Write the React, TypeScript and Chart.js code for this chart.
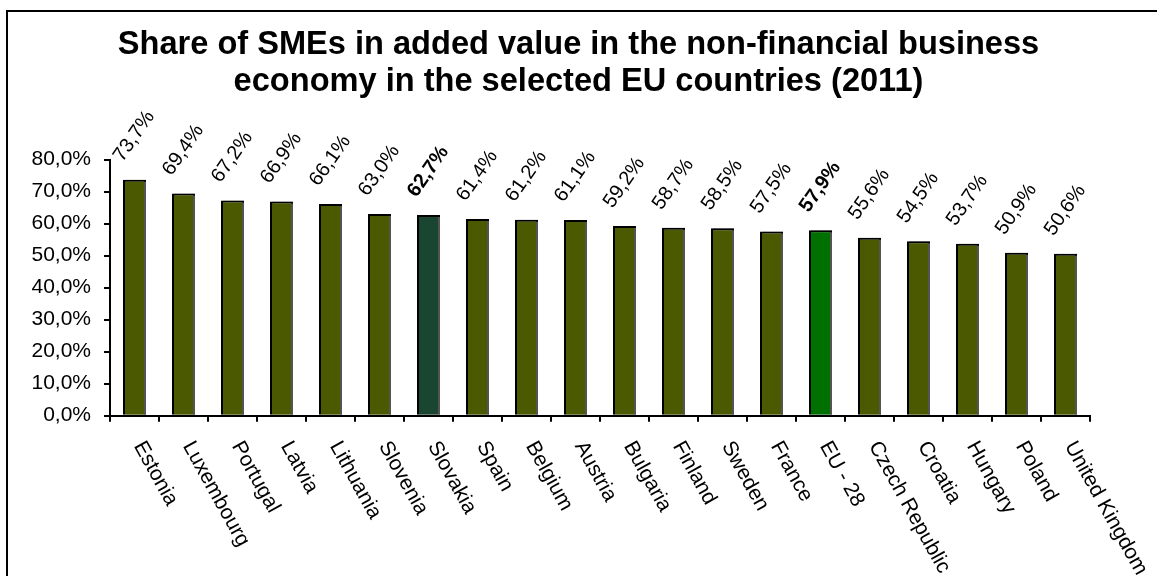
import React, { useEffect, useRef } from 'react';
import { Chart, registerables } from 'chart.js';

Chart.register(...registerables);

const countries = [
  'Estonia', 'Luxembourg', 'Portugal', 'Latvia', 'Lithuania', 'Slovenia', 'Slovakia',
  'Spain', 'Belgium', 'Austria', 'Bulgaria', 'Finland', 'Sweden', 'France', 'EU - 28',
  'Czech Republic', 'Croatia', 'Hungary', 'Poland', 'United Kingdom',
];
const shares = [
  73.7, 69.4, 67.2, 66.9, 66.1, 63.0, 62.7, 61.4, 61.2, 61.1,
  59.2, 58.7, 58.5, 57.5, 57.9, 55.6, 54.5, 53.7, 50.9, 50.6,
];
const highlighted = ['Slovakia', 'EU - 28'];
const titleLines = [
  'Share of SMEs in added value in the non-financial business',
  'economy in the selected EU countries (2011)',
];
const yMin = 0;
const yMax = 80;
const yStep = 10;

const FONT = "'Liberation Sans', Arial, sans-serif";
const OLIVE = '#4b5a00';
const SLOVAKIA = '#1a4631';
const EU = '#007000';

const fmt = (v: number) => v.toFixed(1).replace('.', ',') + '%';

const barColor = (c: string) => (c === 'Slovakia' ? SLOVAKIA : c === 'EU - 28' ? EU : OLIVE);

const customPlugin = {
  id: 'customDraw',
  beforeDraw(chart: any) {
    const ctx = chart.ctx;
    ctx.save();
    ctx.fillStyle = '#ffffff';
    ctx.fillRect(0, 0, chart.width, chart.height);
    ctx.strokeStyle = '#000000';
    ctx.lineWidth = 2;
    ctx.strokeRect(7, 11, chart.width + 20, chart.height + 20);
    ctx.restore();
  },
  beforeDatasetsDraw(chart: any) {
    const ctx = chart.ctx;
    ctx.save();
    ctx.shadowColor = 'rgba(120,120,120,0.7)';
    ctx.shadowOffsetX = 2;
    ctx.shadowOffsetY = 0;
    ctx.shadowBlur = 0;
  },
  afterDatasetsDraw(chart: any) {
    const ctx = chart.ctx;
    ctx.restore();
    const xScale = chart.scales.x;
    const yScale = chart.scales.y;
    ctx.save();
    ctx.fillStyle = '#000000';
    // value labels
    shares.forEach((v, i) => {
      const cx = xScale.getPixelForValue(i);
      const top = yScale.getPixelForValue(v);
      const bold = highlighted.includes(countries[i]);
      ctx.save();
      ctx.translate(cx - 12, top - 17);
      ctx.rotate((-55 * Math.PI) / 180);
      ctx.font = `${bold ? 'bold ' : ''}20px ${FONT}`;
      ctx.textAlign = 'left';
      ctx.textBaseline = 'alphabetic';
      ctx.fillText(fmt(v), 0, 0);
      ctx.restore();
    });
    // category labels
    const axisY = yScale.getPixelForValue(0);
    countries.forEach((c, i) => {
      const cx = xScale.getPixelForValue(i);
      ctx.save();
      ctx.translate(cx - 1, axisY + 30);
      ctx.rotate((61 * Math.PI) / 180);
      ctx.font = `21px ${FONT}`;
      ctx.textAlign = 'left';
      ctx.textBaseline = 'alphabetic';
      ctx.fillText(c, 0, 0);
      ctx.restore();
    });
    ctx.restore();
  },
};

export default function App() {
  const canvasRef = useRef<HTMLCanvasElement | null>(null);

  useEffect(() => {
    const canvas = canvasRef.current;
    if (!canvas) return;
    const chart = new Chart(canvas, {
      type: 'bar',
      data: {
        labels: countries,
        datasets: [
          {
            data: shares,
            backgroundColor: countries.map(barColor),
            borderColor: '#000000',
            borderWidth: 2,
            borderSkipped: 'start',
            categoryPercentage: 1,
            barPercentage: 0.47,
          },
        ],
      },
      options: {
        responsive: false,
        animation: false,
        devicePixelRatio: 1,
        layout: { padding: { left: 0, right: 0, top: 0, bottom: 0 } },
        plugins: {
          legend: { display: false },
          tooltip: { enabled: false },
          title: {
            display: true,
            text: titleLines,
            color: '#000000',
            font: { family: FONT, size: 32.6, weight: 'bold', lineHeight: 37 / 32.6 },
            padding: { top: 27, bottom: 58.5 },
          },
        },
        scales: {
          x: {
            offset: true,
            ticks: { display: false },
            grid: {
              offset: true,
              drawOnChartArea: false,
              drawTicks: true,
              tickLength: 6,
              color: '#000000',
              lineWidth: 2,
            },
            border: { display: true, color: '#000000', width: 2, z: 1 },
            afterFit(scale: any) {
              scale.height = 160.3;
            },
          },
          y: {
            min: yMin,
            max: yMax,
            ticks: {
              stepSize: yStep,
              color: '#000000',
              padding: 13,
              font: { family: FONT, size: 21 },
              callback: (v: any) => fmt(Number(v)),
            },
            grid: {
              drawOnChartArea: false,
              drawTicks: true,
              tickLength: 6,
              color: '#000000',
              lineWidth: 2,
            },
            border: { display: true, color: '#000000', width: 2, z: 1 },
            afterFit(scale: any) {
              scale.width = 110;
            },
          },
          spacer: {
            type: 'linear',
            position: 'right',
            display: true,
            ticks: { display: false },
            grid: { display: false, drawTicks: false },
            border: { display: false },
            afterFit(scale: any) {
              scale.width = 67;
            },
          },
        },
      },
      plugins: [customPlugin],
    });
    return () => chart.destroy();
  }, []);

  return (
    <div style={{ position: 'absolute', left: 0, top: 0, width: 1157, height: 576 }}>
      <canvas ref={canvasRef} width={1157} height={576} style={{ display: 'block' }} />
    </div>
  );
}
